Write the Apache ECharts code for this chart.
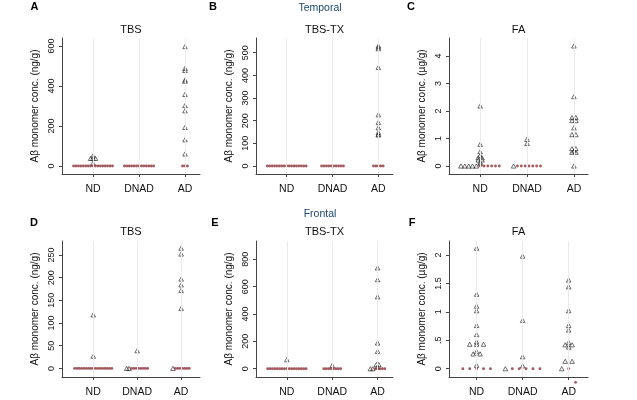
<!DOCTYPE html>
<html><head><meta charset="utf-8">
<script src="https://cdn.jsdelivr.net/npm/echarts@6/dist/echarts.min.js"></script>
<style>html,body{margin:0;padding:0;background:#fff}#c{width:637px;height:400px}</style>
</head><body><div id="c"></div>
<script>
const categories = ['ND', 'DNAD', 'AD'];

// Temporal cortex — triangles: quantified samples, low: samples shown as red dots
const tempTbsTri   = [[50, 38, 38, 38, 14], [], [597, 488, 478, 430, 424, 358, 302, 276, 193, 131, 60]];
const tempTbsLow   = [[0,0,0,0,0,0,0,0,0,0,0,0,0,0,0,0,0], [0,0,0,0,0,0,0,0,0,0,0,0,0], [0,0,0]];
const tempTbsTxTri = [[], [], [530, 525, 518, 435, 226, 192, 169, 148, 140, 137]];
const tempTbsTxLow = [[0,0,0,0,0,0,0,0,0,0,0,0,0,0,0,0,0], [0,0,0,0,0,0,0,0,0,0], [0,0,0,0,0]];
const tempFaTri    = [[0, 0, 0, 0, 0, 2.18, 0.79, 0.52, 0.38, 0.3, 0.3, 0.22, 0.22, 0.14, 0.08],
                      [0, 0.97, 0.82],
                      [0, 4.36, 2.52, 1.76, 1.76, 1.65, 1.65, 1.39, 1.14, 1.14, 0.63, 0.63, 0.55, 0.5, 0.5]];
const tempFaLow    = [[0,0,0,0,0,0], [0,0,0,0,0,0,0], []];

// Frontal cortex
const frontTbsTri   = [[118, 27], [0, 0, 39], [0, 265, 252, 197, 184, 172, 132]];
const frontTbsLow   = [[0,0,0,0,0,0,0,0,0,0,0,0,0,0,0,0,0], [0,0,0,0,0,0,0,0], [0,0,0,0,0,0,0]];
const frontTbsTxTri = [[66], [24], [0, 0, 737, 651, 526, 188, 127, 31, 31, 12]];
const frontTbsTxLow = [[0,0,0,0,0,0,0,0,0,0,0,0,0,0,0,0,0], [0,0,0,0,0,0,0,0], [0,0,0,0,0]];
const frontFaTri    = [[2.12, 1.31, 1.10, 1.02, 0.76, 0.60, 0.47, 0.43, 0.43, 0.43, 0.30, 0.26, 0.26, 0.06],
                       [0, 1.98, 0.85, 0.21, 0.05],
                       [0, 1.56, 1.44, 1.02, 0.76, 0.68, 0.46, 0.42, 0.42, 0.38, 0.13, 0.13]];
const frontFaLow    = [[0,0,0,0,0], [0,0,0,0,0], [0, -0.24]];

// tick labels
const tempTbsTicks    = [0, 200, 400, 600];
const tempTbsTxTicks  = [0, 100, 200, 300, 400, 500];
const tempFaTicks     = [0, 1, 2, 3, 4];
const frontTbsTicks   = [0, 50, 100, 150, 200, 250];
const frontTbsTxTicks = [0, 200, 400, 600, 800];
const frontFaTicks    = [0, 0.5, 1, 1.5, 2];

const panelTitles = ['TBS', 'TBS-TX', 'FA', 'TBS', 'TBS-TX', 'FA'];
const panelLetters = ['A', 'B', 'C', 'D', 'E', 'F'];
const yTitles = ['Aβ monomer conc. (ng/g)', 'Aβ monomer conc. (ng/g)', 'Aβ monomer conc. (µg/g)',
                 'Aβ monomer conc. (ng/g)', 'Aβ monomer conc. (ng/g)', 'Aβ monomer conc. (µg/g)'];
const regionTitles = ['Temporal', 'Frontal'];

const panelData = [
  [tempTbsTri, tempTbsLow, tempTbsTicks],
  [tempTbsTxTri, tempTbsTxLow, tempTbsTxTicks],
  [tempFaTri, tempFaLow, tempFaTicks],
  [frontTbsTri, frontTbsLow, frontTbsTicks],
  [frontTbsTxTri, frontTbsTxLow, frontTbsTxTicks],
  [frontFaTri, frontFaLow, frontFaTicks]
];

// layout (pixels / axis ranges)
const layout = [
  {left: 62,  top: 38,  width: 138, height: 136, xMin: 0.326, xMax: 3.326, yMin: -40,    yMax: 640},
  {left: 256, top: 38,  width: 137, height: 136, xMin: 0.33,  xMax: 3.32,  yMin: -35.3,  yMax: 565},
  {left: 449, top: 38,  width: 139, height: 136, xMin: 0.336, xMax: 3.30,  yMin: -0.29,  yMax: 4.65},
  {left: 62,  top: 241, width: 138, height: 136, xMin: 0.29,  xMax: 3.43,  yMin: -18.9,  yMax: 280.8},
  {left: 256, top: 241, width: 137, height: 136, xMin: 0.32,  xMax: 3.34,  yMin: -60.5,  yMax: 933.6},
  {left: 449, top: 241, width: 139, height: 136, xMin: 0.40,  xMax: 3.42,  yMin: -0.146, yMax: 2.246}
];
const letterPos = [[34.5, 7], [213, 7], [411, 7], [34, 223], [215, 223], [412, 223]];
const titleY = [30, 30, 30, 232, 232, 232];
const regionPos = [[320, 8], [320, 214]];

const FONT = '"Liberation Sans", Arial, Helvetica, sans-serif';
const AXIS_COLOR = '#444';

// dot-plot layout: rows of equal values are spread horizontally around the category
function buildRows(tri, low) {
  const groups = [];
  for (let c = 0; c < categories.length; c++) {
    const zeroRow = [];
    tri[c].filter(v => v <= 0).forEach(v => zeroRow.push({v, t: 'tri'}));
    low[c].forEach(v => zeroRow.push({v, t: 'low'}));
    const rows = [];
    if (zeroRow.length) rows.push(zeroRow);
    const map = new Map();
    tri[c].filter(v => v > 0).forEach(v => {
      if (!map.has(v)) { map.set(v, []); rows.push(map.get(v)); }
      map.get(v).push({v, t: 'tri'});
    });
    groups.push(rows);
  }
  return groups;
}

const grids = [], xAxes = [], yAxes = [], series = [], graphics = [];

panelData.forEach((pd, i) => {
  const [tri, low, ticks] = pd;
  const L = layout[i];
  const groups = buildRows(tri, low);
  let maxRow = 1;
  groups.forEach(rows => rows.forEach(r => { maxRow = Math.max(maxRow, r.length); }));
  const step = 0.9 / maxRow;
  const triPts = [], lowPts = [];
  groups.forEach((rows, c) => {
    rows.forEach(r => {
      const n = r.length;
      r.forEach((p, k) => {
        const x = c + 1 + (k - (n - 1) / 2) * step;
        (p.t === 'tri' ? triPts : lowPts).push([x, p.v]);
      });
    });
  });

  grids.push({left: L.left, top: L.top, width: L.width, height: L.height, containLabel: false});
  xAxes.push({
    type: 'value', gridIndex: i, min: L.xMin, max: L.xMax,
    axisLine: {show: true, onZero: false, lineStyle: {color: AXIS_COLOR, width: 1}},
    axisTick: {show: true, length: 3, customValues: [1, 2, 3], lineStyle: {color: AXIS_COLOR}},
    axisLabel: {show: true, customValues: [1, 2, 3], formatter: v => categories[Math.round(v) - 1],
                margin: 10, fontFamily: FONT, fontSize: 10.5, color: '#111'},
    splitLine: {show: false}
  });
  yAxes.push({
    type: 'value', gridIndex: i, min: L.yMin, max: L.yMax,
    name: yTitles[i], nameLocation: 'middle', nameRotate: 90, nameGap: 22,
    nameTextStyle: {fontFamily: FONT, fontSize: 10, color: '#111'},
    axisLine: {show: true, onZero: false, lineStyle: {color: AXIS_COLOR, width: 1}},
    axisTick: {show: true, length: 3, customValues: ticks, lineStyle: {color: AXIS_COLOR}},
    axisLabel: {show: true, customValues: ticks, rotate: 90, margin: 6,
                formatter: v => String(v).replace(/^0\./, '.'),
                fontFamily: FONT, fontSize: 9, color: '#111'},
    splitLine: {show: false}
  });
  series.push({
    type: 'scatter', xAxisIndex: i, yAxisIndex: i, data: [], z: 1, silent: true,
    markLine: {silent: true, symbol: ['none', 'none'], label: {show: false},
               lineStyle: {color: '#ebebeb', width: 1, type: 'solid'},
               emphasis: {disabled: true},
               data: [{xAxis: 1}, {xAxis: 2}, {xAxis: 3}], animation: false}
  });
  series.push({
    type: 'scatter', xAxisIndex: i, yAxisIndex: i, data: triPts, z: 3,
    symbol: 'triangle', symbolSize: [4.6, 4.2], clip: false,
    itemStyle: {color: 'rgba(0,0,0,0)', borderColor: '#222', borderWidth: 0.8}
  });
  series.push({
    type: 'scatter', xAxisIndex: i, yAxisIndex: i, data: lowPts, z: 4,
    symbol: 'circle', symbolSize: 2.9, clip: false,
    itemStyle: {color: '#90353b', borderWidth: 0}
  });

  graphics.push({type: 'text', x: letterPos[i][0], y: letterPos[i][1],
    style: {text: panelLetters[i], font: 'bold 11px ' + FONT, fill: '#000', align: 'center', verticalAlign: 'middle'}});
  graphics.push({type: 'text', x: L.left + L.width / 2, y: titleY[i],
    style: {text: panelTitles[i], font: '11px ' + FONT, fill: '#111', align: 'center', verticalAlign: 'middle'}});
});

regionTitles.forEach((t, j) => {
  graphics.push({type: 'text', x: regionPos[j][0], y: regionPos[j][1],
    style: {text: t, font: '10.5px ' + FONT, fill: '#1a476f', align: 'center', verticalAlign: 'middle'}});
});

const chart = echarts.init(document.getElementById('c'), null, {renderer: 'canvas'});
chart.setOption({
  animation: false,
  backgroundColor: '#fff',
  grid: grids, xAxis: xAxes, yAxis: yAxes, series: series,
  graphic: graphics
});
</script>
</body></html>
